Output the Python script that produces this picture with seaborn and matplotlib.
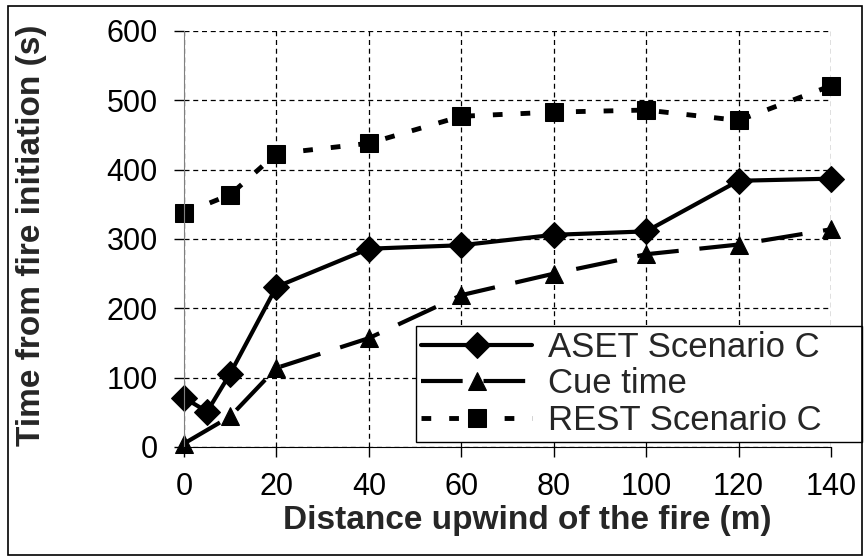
import matplotlib
matplotlib.use("Agg")
import matplotlib.pyplot as plt
import matplotlib.patches as mpatches
import numpy as np
import pandas as pd
import seaborn as sns

# data
aset_x = [0, 5, 10, 20, 40, 60, 80, 100, 120, 140]
aset_y = [71, 51, 106, 231, 286, 291, 306, 311, 384, 387]

cue_x = [0, 10, 20, 40, 60, 80, 100, 120, 140]
cue_y = [5, 44, 114, 157, 219, 250, 278, 292, 314]

rest_x = [0, 10, 20, 40, 60, 80, 100, 120, 140]
rest_y = [337, 364, 423, 438, 477, 483, 486, 471, 521]

series_names = ["ASET Scenario C", "Cue time", "REST Scenario C"]
x_ticks = [0, 20, 40, 60, 80, 100, 120, 140]
y_ticks = [0, 100, 200, 300, 400, 500, 600]

sns.set_style("white")
plt.rcParams['font.family'] = ['Liberation Sans', 'DejaVu Sans']

fig = plt.figure(figsize=(8.65, 5.56), dpi=100)
ax = fig.add_axes([184/865, 1-447/556, (831-184)/865, (447-31)/556])

df_aset = pd.DataFrame({'x': aset_x, 'y': aset_y})
df_cue = pd.DataFrame({'x': cue_x, 'y': cue_y})
df_rest = pd.DataFrame({'x': rest_x, 'y': rest_y})

sns.lineplot(data=df_aset, x='x', y='y', ax=ax, color='black', lw=3,
             marker='D', markersize=13, markeredgecolor='black',
             label=series_names[0], clip_on=False)
sns.lineplot(data=df_cue, x='x', y='y', ax=ax, color='black', lw=3,
             linestyle=(0, (10, 5)), marker='^', markersize=13,
             markeredgecolor='black', label=series_names[1], clip_on=False)
sns.lineplot(data=df_rest, x='x', y='y', ax=ax, color='black', lw=3.5,
             linestyle=(0, (2, 3.7)), marker='s', markersize=13,
             markeredgecolor='black', label=series_names[2], clip_on=False)

ax.set_xlim(0, 140)
ax.set_ylim(0, 600)
ax.set_xticks(x_ticks)
ax.set_yticks(y_ticks)
ax.tick_params(axis='both', labelsize=22, colors='black', length=7, width=1,
               direction='out', left=True, bottom=True)
ax.tick_params(axis='y', pad=12)
ax.tick_params(axis='x', pad=11)

ax.grid(True, color='black', linestyle=(0, (4, 3)), linewidth=0.9)
for s in ['top', 'right']:
    ax.spines[s].set_visible(False)
ax.spines['left'].set_color('#808080')
ax.spines['bottom'].set_color('black')
ax.set_axisbelow(True)

ax.set_xlabel('Distance upwind of the fire (m)', fontsize=24, fontweight='bold')
ax.xaxis.set_label_coords(0.53, -0.14)
ax.set_ylabel('Time from fire initiation (s)', fontsize=24, fontweight='bold')
ax.yaxis.set_label_coords(-0.212, 0.51)

leg = ax.legend(loc='lower left', bbox_to_anchor=(416/865, 1-442/556, (862-416)/865, (442-311)/556),
                bbox_transform=fig.transFigure, mode='expand', frameon=True, fancybox=False,
                fontsize=25, handlelength=3.2, borderpad=0.15, labelspacing=0.1,
                handletextpad=0.45, borderaxespad=0)
leg.get_frame().set_edgecolor('black')
leg.get_frame().set_linewidth(1.0)
leg.get_frame().set_alpha(1)

# outer frame around the figure
fig.patches.append(mpatches.Rectangle((8/865, 0.002), (862-8)/865, 1-6/556-0.002,
                                      transform=fig.transFigure, fill=False,
                                      edgecolor='black', linewidth=1.2))

plt.savefig('out.png', dpi=100)
